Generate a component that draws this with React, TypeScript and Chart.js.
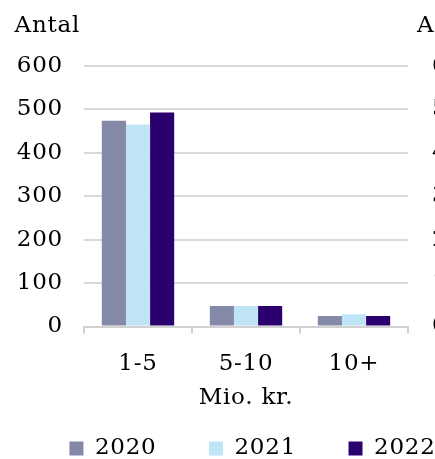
import { useEffect, useRef } from 'react';
import { Chart, registerables } from 'chart.js';

Chart.register(...registerables);

const categories = ['1-5', '5-10', '10+'];
const seriesLabels = ['2020', '2021', '2022'];
const values2020 = [474, 47, 24];
const values2021 = [465, 47, 28];
const values2022 = [493, 47, 24];
const yTicks = [0, 100, 200, 300, 400, 500, 600];
const yAxisTitle = 'Antal';
const xAxisTitle = 'Mio. kr.';
const seriesColors = ['#8589a8', '#bee4f6', '#2a006e'];

const FONT = "'DejaVu Serif'";
const FONT_SIZE = 23;
const SPACING = '0.75px';

const textPlugin = {
  id: 'textPlugin',
  beforeUpdate(chart: any) {
    chart.ctx.letterSpacing = SPACING;
  },
  beforeDraw(chart: any) {
    chart.ctx.letterSpacing = SPACING;
  },
  afterDraw(chart: any) {
    const { ctx, chartArea } = chart;
    ctx.save();
    ctx.letterSpacing = SPACING;
    ctx.font = `${FONT_SIZE}px ${FONT}`;
    ctx.fillStyle = '#000';
    ctx.textBaseline = 'alphabetic';
    ctx.textAlign = 'right';
    ctx.fillText(yAxisTitle, chartArea.left - 4, chartArea.top - 34);
    ctx.textAlign = 'left';
    ctx.fillText(yAxisTitle, chartArea.right + 9, chartArea.top - 34);
    ctx.restore();
  },
};

export default function App() {
  const ref = useRef<HTMLCanvasElement | null>(null);

  useEffect(() => {
    if (!ref.current) return;
    Chart.defaults.font.family = FONT;
    Chart.defaults.font.size = FONT_SIZE;
    Chart.defaults.color = '#000';
    const yMin = yTicks[0];
    const yMax = yTicks[yTicks.length - 1];
    const step = yTicks[1] - yTicks[0];
    const series = [values2020, values2021, values2022];
    const chart = new Chart(ref.current, {
      type: 'bar',
      data: {
        labels: categories,
        datasets: series.map((vals, i) => ({
          label: seriesLabels[i],
          data: vals,
          backgroundColor: seriesColors[i],
          borderWidth: 0,
          barPercentage: 1,
          categoryPercentage: 0.67,
          yAxisID: 'y',
        })),
      },
      options: {
        responsive: false,
        animation: false,
        layout: { padding: { top: 66, left: 0, right: 0, bottom: 0 } },
        plugins: {
          legend: {
            position: 'bottom',
            labels: {
              boxWidth: 14,
              boxHeight: 14,
              padding: 52.5,
              color: '#000',
              font: { size: FONT_SIZE, family: FONT },
            },
          },
          tooltip: { enabled: false },
        },
        scales: {
          x: {
            grid: {
              display: true,
              drawOnChartArea: false,
              drawTicks: true,
              tickLength: 7,
              color: '#d0d0d0',
              lineWidth: 2,
              offset: true,
            },
            border: { display: true, color: '#d0d0d0', width: 2 },
            ticks: { padding: 16.5, color: '#000', maxRotation: 0 },
            title: {
              display: true,
              text: xAxisTitle,
              color: '#000',
              font: { size: FONT_SIZE, family: FONT },
              padding: { top: 0, bottom: -27 },
            },
            afterFit: (s: any) => {
              s.height = 58;
            },
          },
          y: {
            position: 'left',
            min: yMin,
            max: yMax,
            ticks: { stepSize: step, padding: 21, color: '#000' },
            grid: { color: '#d9d9d9', lineWidth: 2, drawTicks: false },
            border: { display: false },
            afterFit: (s: any) => {
              s.width = 84;
            },
          },
          y2: {
            position: 'right',
            min: yMin,
            max: yMax,
            ticks: { stepSize: step, padding: 24, color: '#000' },
            grid: { display: false, drawTicks: false },
            border: { display: false },
            afterFit: (s: any) => {
              s.width = 97;
            },
          },
        },
      } as any,
      plugins: [textPlugin],
    });
    return () => chart.destroy();
  }, []);

  return (
    <div
      style={{
        position: 'absolute',
        left: 0,
        top: 0,
        width: 435,
        height: 459,
        overflow: 'hidden',
        background: '#fff',
      }}
    >
      <canvas
        ref={ref}
        width={505}
        height={470}
        style={{ display: 'block', width: 505, height: 470 }}
      />
    </div>
  );
}
